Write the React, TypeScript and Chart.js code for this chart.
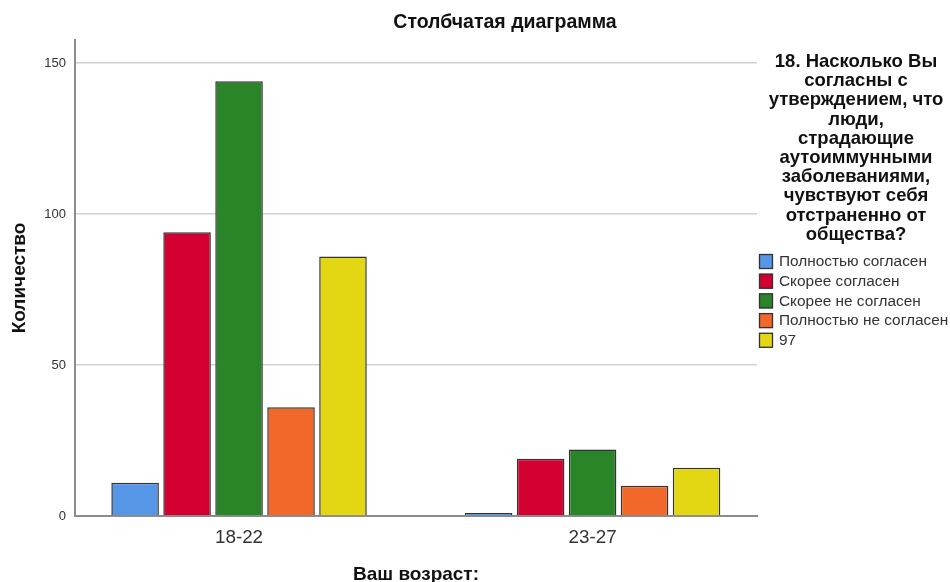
import React, { useEffect, useRef } from "react";
import { Chart, registerables } from "chart.js";

Chart.register(...registerables);

const categories = ["18-22", "23-27"];
const seriesNames = [
  "Полностью согласен",
  "Скорее согласен",
  "Скорее не согласен",
  "Полностью не согласен",
  "97",
];
const seriesColors = ["#5596E6", "#D50032", "#2A8529", "#F2672A", "#E2D712"];
const fullyAgree = [11, 1];
const ratherAgree = [94, 19];
const ratherDisagree = [144, 22];
const fullyDisagree = [36, 10];
const code97 = [86, 16];
const yTicks = [0, 50, 100, 150];
const chartTitle = "Столбчатая диаграмма";
const xTitle = "Ваш возраст:";
const yTitle = "Количество";
const legendTitle = [
  "18. Насколько Вы",
  "согласны с",
  "утверждением, что",
  "люди,",
  "страдающие",
  "аутоиммунными",
  "заболеваниями,",
  "чувствуют себя",
  "отстраненно от",
  "общества?",
];

const FONT = "'Liberation Sans', Arial, sans-serif";

const textPlugin = {
  id: "textPlugin",
  afterDraw(chart: any) {
    const ctx = chart.ctx as CanvasRenderingContext2D;
    ctx.save();
    ctx.fillStyle = "#111";
    ctx.textBaseline = "middle";
    ctx.textAlign = "center";
    // main title
    ctx.font = `bold 19.5px ${FONT}`;
    ctx.fillText(chartTitle, 505, 23);
    // x title
    ctx.font = `bold 19px ${FONT}`;
    ctx.fillText(xTitle, 416, 575);
    // y title
    ctx.save();
    ctx.translate(20, 278);
    ctx.rotate(-Math.PI / 2);
    ctx.fillText(yTitle, 0, 0);
    ctx.restore();
    // legend title
    ctx.font = `bold 18.5px ${FONT}`;
    legendTitle.forEach((line, i) => {
      ctx.fillText(line, 856, 62 + i * 19.2);
    });
    // legend items
    ctx.textAlign = "left";
    ctx.font = `15.4px ${FONT}`;
    chart.data.datasets.forEach((ds: any, i: number) => {
      const cy = 261 + i * 19.7;
      ctx.fillStyle = ds.backgroundColor;
      ctx.fillRect(759, cy - 7, 14, 15);
      ctx.strokeStyle = "#333";
      ctx.lineWidth = 1.3;
      ctx.strokeRect(759.5, cy - 6.5, 13, 14);
      ctx.fillStyle = "#333";
      ctx.fillText(ds.label, 779, cy + 1);
    });
    ctx.restore();
  },
};

export default function App() {
  const canvasRef = useRef<HTMLCanvasElement | null>(null);

  useEffect(() => {
    document.body.style.margin = "0";
    const seriesValues = [fullyAgree, ratherAgree, ratherDisagree, fullyDisagree, code97];
    const chart = new Chart(canvasRef.current as HTMLCanvasElement, {
      type: "bar",
      data: {
        datasets: seriesValues.map((vals, i) => ({
          label: seriesNames[i],
          data: vals.map((v, j) => ({ x: j, y: v })),
          backgroundColor: seriesColors[i],
          borderColor: "#333",
          borderWidth: 1.5,
          categoryPercentage: 0.735,
          barPercentage: 0.915,
        })),
      },
      options: {
        animation: false,
        responsive: false,
        maintainAspectRatio: false,
        layout: { padding: { left: 0, top: 40, right: 193, bottom: 0 } },
        plugins: {
          legend: { display: false },
          title: { display: false },
          tooltip: { enabled: false },
        },
        scales: {
          x: {
            type: "linear",
            min: -0.464,
            max: 1.465,
            offset: false,
            grid: { display: false, offset: false },
            border: { display: true, color: "#8c8c8c", width: 2 },
            afterBuildTicks: (scale: any) => {
              scale.ticks = categories.map((_, i) => ({ value: i }));
            },
            afterFit: (scale: any) => {
              scale.height = 66;
            },
            ticks: {
              autoSkip: false,
              maxRotation: 0,
              padding: 3,
              color: "#333",
              font: { family: FONT, size: 18.8 },
              callback: (v: any) => categories[v] ?? "",
            },
          },
          y: {
            min: 0,
            max: 157.7,
            afterBuildTicks: (scale: any) => {
              scale.ticks = yTicks.map((v) => ({ value: v }));
            },
            afterFit: (scale: any) => {
              scale.width = 75;
            },
            grid: { color: "#d2d2d2", lineWidth: 1.5, drawTicks: false },
            border: { display: true, color: "#8c8c8c", width: 2 },
            ticks: {
              padding: 9,
              color: "#333",
              font: { family: FONT, size: 13 },
            },
          },
        },
      },
      plugins: [textPlugin],
    });
    return () => chart.destroy();
  }, []);

  return (
    <div style={{ width: 950, height: 582 }}>
      <canvas ref={canvasRef} width={950} height={582} style={{ display: "block" }} />
    </div>
  );
}
